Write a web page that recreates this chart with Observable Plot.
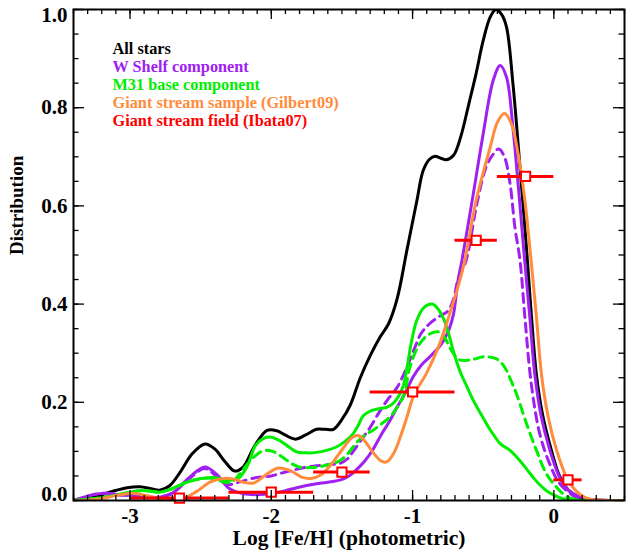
<!DOCTYPE html>
<html><head><meta charset="utf-8">
<script src="https://cdn.jsdelivr.net/npm/d3@7"></script>
<script src="https://cdn.jsdelivr.net/npm/@observablehq/plot@0.6"></script>
<style>body{margin:0;background:#fff}</style>
</head><body><div id="chart"></div>
<script>
// [log Fe/H, distribution]
const allStars = [[-3.4,0],[-3.32,0.003],[-3.25,0.007],[-3.12,0.019],[-3.02,0.026],[-2.93,0.028],[-2.85,0.024],[-2.79,0.021],[-2.72,0.03],[-2.64,0.06],[-2.56,0.095],[-2.47,0.115],[-2.40,0.105],[-2.33,0.08],[-2.26,0.06],[-2.20,0.068],[-2.12,0.11],[-2.03,0.143],[-1.96,0.142],[-1.90,0.133],[-1.83,0.125],[-1.76,0.133],[-1.68,0.145],[-1.62,0.145],[-1.56,0.145],[-1.50,0.165],[-1.44,0.195],[-1.37,0.25],[-1.30,0.295],[-1.23,0.333],[-1.17,0.36],[-1.11,0.41],[-1.04,0.51],[-0.97,0.61],[-0.925,0.672],[-0.88,0.695],[-0.84,0.701],[-0.80,0.697],[-0.76,0.694],[-0.71,0.703],[-0.66,0.74],[-0.60,0.81],[-0.55,0.87],[-0.50,0.937],[-0.45,0.985],[-0.41,1.0],[-0.37,0.99],[-0.335,0.964],[-0.29,0.85],[-0.24,0.68],[-0.19,0.50],[-0.158,0.373],[-0.123,0.255],[-0.08,0.175],[-0.02,0.105],[0.04,0.05],[0.10,0.022],[0.16,0.009],[0.26,0.002],[0.5,0]];
const wShelf = [[-3.4,0],[-3.33,0.006],[-3.26,0.012],[-3.17,0.015],[-3.05,0.011],[-2.93,0.01],[-2.81,0.006],[-2.70,0.015],[-2.58,0.047],[-2.47,0.068],[-2.39,0.054],[-2.30,0.025],[-2.20,0.014],[-2.08,0.012],[-2.00,0.014],[-1.90,0.02],[-1.82,0.026],[-1.68,0.034],[-1.58,0.038],[-1.51,0.042],[-1.45,0.05],[-1.40,0.062],[-1.34,0.08],[-1.28,0.104],[-1.22,0.135],[-1.16,0.163],[-1.11,0.19],[-1.05,0.22],[-1.00,0.25],[-0.94,0.275],[-0.88,0.292],[-0.82,0.31],[-0.78,0.326],[-0.74,0.35],[-0.71,0.38],[-0.68,0.445],[-0.65,0.49],[-0.57,0.625],[-0.50,0.747],[-0.43,0.855],[-0.38,0.886],[-0.335,0.862],[-0.29,0.76],[-0.25,0.635],[-0.21,0.50],[-0.17,0.373],[-0.134,0.255],[-0.09,0.172],[-0.03,0.104],[0.03,0.054],[0.08,0.028],[0.137,0.014],[0.2,0.006],[0.26,0.002],[0.5,0]];
const wShelfDashed = [[-3.4,0],[-3.33,0.006],[-3.26,0.012],[-3.17,0.015],[-3.05,0.011],[-2.93,0.01],[-2.81,0.006],[-2.70,0.015],[-2.58,0.045],[-2.47,0.065],[-2.39,0.05],[-2.31,0.033],[-2.22,0.038],[-2.12,0.046],[-2.00,0.05],[-1.90,0.058],[-1.80,0.065],[-1.70,0.07],[-1.60,0.073],[-1.51,0.076],[-1.46,0.085],[-1.42,0.10],[-1.36,0.125],[-1.30,0.149],[-1.24,0.178],[-1.18,0.204],[-1.11,0.23],[-1.05,0.265],[-1.00,0.30],[-0.94,0.34],[-0.88,0.36],[-0.81,0.375],[-0.75,0.386],[-0.71,0.41],[-0.68,0.448],[-0.62,0.49],[-0.55,0.597],[-0.48,0.679],[-0.43,0.705],[-0.39,0.716],[-0.35,0.70],[-0.31,0.645],[-0.276,0.557],[-0.24,0.49],[-0.205,0.373],[-0.16,0.238],[-0.10,0.136],[-0.03,0.075],[0.04,0.035],[0.137,0.01],[0.22,0.002],[0.5,0]];
const m31Base = [[-3.4,0],[-3.28,0.003],[-3.17,0.007],[-3.05,0.014],[-2.93,0.02],[-2.85,0.019],[-2.79,0.017],[-2.72,0.022],[-2.65,0.031],[-2.58,0.039],[-2.51,0.044],[-2.41,0.047],[-2.34,0.043],[-2.29,0.041],[-2.23,0.046],[-2.17,0.07],[-2.11,0.113],[-2.05,0.127],[-2.00,0.129],[-1.94,0.122],[-1.87,0.108],[-1.82,0.099],[-1.75,0.097],[-1.68,0.098],[-1.61,0.102],[-1.54,0.109],[-1.48,0.12],[-1.43,0.133],[-1.39,0.15],[-1.35,0.172],[-1.30,0.182],[-1.24,0.187],[-1.18,0.19],[-1.13,0.2],[-1.07,0.23],[-1.04,0.27],[-1.01,0.32],[-0.97,0.367],[-0.92,0.393],[-0.86,0.40],[-0.82,0.39],[-0.78,0.37],[-0.74,0.335],[-0.71,0.303],[-0.66,0.26],[-0.62,0.235],[-0.57,0.204],[-0.52,0.178],[-0.476,0.156],[-0.43,0.135],[-0.38,0.116],[-0.31,0.102],[-0.24,0.081],[-0.19,0.063],[-0.146,0.047],[-0.10,0.032],[-0.052,0.02],[0.0,0.011],[0.042,0.006],[0.1,0.002],[0.2,0],[0.5,0]];
const m31BaseDashed = [[-3.4,0],[-3.28,0.003],[-3.17,0.007],[-3.05,0.014],[-2.93,0.02],[-2.85,0.019],[-2.79,0.017],[-2.72,0.022],[-2.65,0.031],[-2.58,0.039],[-2.51,0.044],[-2.41,0.045],[-2.33,0.037],[-2.28,0.038],[-2.22,0.055],[-2.15,0.081],[-2.06,0.101],[-1.99,0.1],[-1.92,0.088],[-1.85,0.074],[-1.80,0.068],[-1.72,0.067],[-1.66,0.069],[-1.58,0.074],[-1.51,0.082],[-1.45,0.098],[-1.40,0.117],[-1.34,0.133],[-1.28,0.143],[-1.22,0.156],[-1.16,0.17],[-1.11,0.19],[-1.06,0.215],[-1.02,0.27],[-0.95,0.319],[-0.88,0.339],[-0.81,0.343],[-0.77,0.33],[-0.73,0.308],[-0.67,0.287],[-0.60,0.286],[-0.55,0.289],[-0.50,0.293],[-0.45,0.292],[-0.41,0.289],[-0.37,0.28],[-0.335,0.265],[-0.30,0.242],[-0.264,0.217],[-0.193,0.156],[-0.123,0.102],[-0.052,0.054],[0.02,0.027],[0.09,0.008],[0.16,0.002],[0.25,0],[0.5,0]];
const gilbert09 = [[-3.4,0],[-3.3,0.001],[-3.215,0.003],[-3.1,0.01],[-2.98,0.015],[-2.885,0.01],[-2.77,0.003],[-2.65,0.001],[-2.53,0.018],[-2.43,0.038],[-2.33,0.045],[-2.26,0.043],[-2.18,0.036],[-2.12,0.036],[-2.04,0.052],[-1.95,0.066],[-1.86,0.06],[-1.78,0.047],[-1.72,0.045],[-1.65,0.052],[-1.58,0.072],[-1.49,0.107],[-1.43,0.128],[-1.38,0.132],[-1.33,0.118],[-1.28,0.098],[-1.22,0.08],[-1.18,0.079],[-1.13,0.098],[-1.08,0.135],[-1.04,0.17],[-0.99,0.215],[-0.90,0.26],[-0.81,0.318],[-0.74,0.378],[-0.68,0.434],[-0.63,0.489],[-0.55,0.611],[-0.45,0.72],[-0.40,0.77],[-0.35,0.788],[-0.30,0.767],[-0.253,0.706],[-0.205,0.611],[-0.165,0.50],[-0.123,0.373],[-0.087,0.255],[-0.04,0.17],[0.02,0.102],[0.09,0.047],[0.14,0.025],[0.184,0.013],[0.25,0.003],[0.35,0],[0.5,0]];

// Ibata07 field: bin centre, value, bin edges
const ibataX  = [-2.65, -2.0, -1.5, -1.0, -0.55, -0.2, 0.1];
const ibataY  = [0.005, 0.017, 0.058, 0.221, 0.53, 0.66, 0.042];
const ibataLo = [-3.0, -2.3, -1.7, -1.3, -0.7, -0.4, 0.0];
const ibataHi = [-2.3, -1.7, -1.3, -0.7, -0.4, 0.0, 0.2];

const legendLabels = ["All stars","W Shelf component","M31 base component","Giant stream sample (Gilbert09)","Giant stream field (Ibata07)"];
const legendColors = ["#000000","#a020f0","#00ee00","#ff8c3c","#ff0000"];

const xMajor = [-3,-2,-1,0];
const xTickLabels = ["-3","-2","-1","0"];
const xMinor = d3.range(-34, 6).map(i => i/10);
const yMajor = [0,0.2,0.4,0.6,0.8,1.0];
const yTickLabels = ["0.0","0.2","0.4","0.6","0.8","1.0"];
const yMinor = d3.range(0, 21).map(i => i/20);

const ibata = ibataX.map((x,i) => ({x, y: ibataY[i], lo: ibataLo[i], hi: ibataHi[i]}));

const W = 626, H = 557, mL = 73, mR = 2, mT = 9, mB = 57;
const iw = W - mL - mR, ih = H - mT - mB;
const font = "Liberation Serif, Times New Roman, serif";
const lineOpts = (stroke, dash) => ({x: d => d[0], y: d => d[1], stroke, strokeWidth: 3, curve: "catmull-rom", clip: true, strokeDasharray: dash});
const tickFont = {fontSize: 21, fontWeight: "bold", fill: "black"};

const marks = [
  Plot.line(allStars, lineOpts(legendColors[0])),
  Plot.line(wShelf, lineOpts(legendColors[1])),
  Plot.line(wShelfDashed, lineOpts(legendColors[1], "9,6")),
  Plot.line(m31Base, lineOpts(legendColors[2])),
  Plot.line(m31BaseDashed, lineOpts(legendColors[2], "9,6")),
  Plot.line(gilbert09, lineOpts(legendColors[3])),
  Plot.ruleY(ibata, {y: "y", x1: "lo", x2: "hi", stroke: legendColors[4], strokeWidth: 3}),
  Plot.dot(ibata, {x: "x", y: "y", symbol: "square", r: 5.2, stroke: legendColors[4], strokeWidth: 2, fill: "white"}),
  // ticks (inward)
  Plot.tickX(xMinor, {x: d => d, insetTop: ih - 5, stroke: "black", strokeWidth: 1.3}),
  Plot.tickX(xMajor, {x: d => d, insetTop: ih - 10, stroke: "black", strokeWidth: 1.3}),
  Plot.tickX(xMinor, {x: d => d, insetBottom: ih - 5, stroke: "black", strokeWidth: 1.3}),
  Plot.tickX(xMajor, {x: d => d, insetBottom: ih - 10, stroke: "black", strokeWidth: 1.3}),
  Plot.tickY(yMinor, {y: d => d, insetRight: iw - 5.5, stroke: "black", strokeWidth: 1.3}),
  Plot.tickY(yMajor, {y: d => d, insetRight: iw - 11, stroke: "black", strokeWidth: 1.3}),
  Plot.tickY(yMinor, {y: d => d, insetLeft: iw - 5.5, stroke: "black", strokeWidth: 1.3}),
  Plot.tickY(yMajor, {y: d => d, insetLeft: iw - 11, stroke: "black", strokeWidth: 1.3}),
  Plot.frame({stroke: "black", strokeWidth: 2}),
  // tick labels
  Plot.text(xMajor, {x: d => d, frameAnchor: "bottom", dy: 22, text: (d,i) => xTickLabels[i], ...tickFont}),
  Plot.text(yMajor.slice(1,5), {y: d => d, frameAnchor: "left", dx: -6, textAnchor: "end", text: (d,i) => yTickLabels[i+1], ...tickFont}),
  Plot.text([yMajor[0]], {y: d => d, frameAnchor: "left", dx: -6, dy: -6, textAnchor: "end", text: [yTickLabels[0]], ...tickFont}),
  Plot.text([yMajor[5]], {y: d => d, frameAnchor: "left", dx: -6, dy: 6, textAnchor: "end", text: [yTickLabels[5]], ...tickFont}),
  // axis titles
  Plot.text(["Log [Fe/H] (photometric)"], {frameAnchor: "bottom", dy: 44, text: d => d, fontSize: 21.5, fontWeight: "bold", fill: "black"}),
  Plot.text(["Distribution"], {frameAnchor: "left", dx: -57, rotate: -90, text: d => d, fontSize: 19, fontWeight: "bold", fill: "black"}),
  // legend
  ...legendLabels.map((t, i) => Plot.text([t], {frameAnchor: "top-left", dx: 39, dy: 33 + i * 18, textAnchor: "start", text: d => d, fontSize: 16.3, fontWeight: "bold", fill: legendColors[i]}))
];

const chart = Plot.plot({
  width: W, height: H,
  marginLeft: mL, marginRight: mR, marginTop: mT, marginBottom: mB,
  x: {domain: [-3.4, 0.5], axis: null},
  y: {domain: [0, 1], axis: null},
  style: {fontFamily: font, background: "white", color: "black"},
  marks
});
document.getElementById("chart").appendChild(chart);
</script>
</body></html>
